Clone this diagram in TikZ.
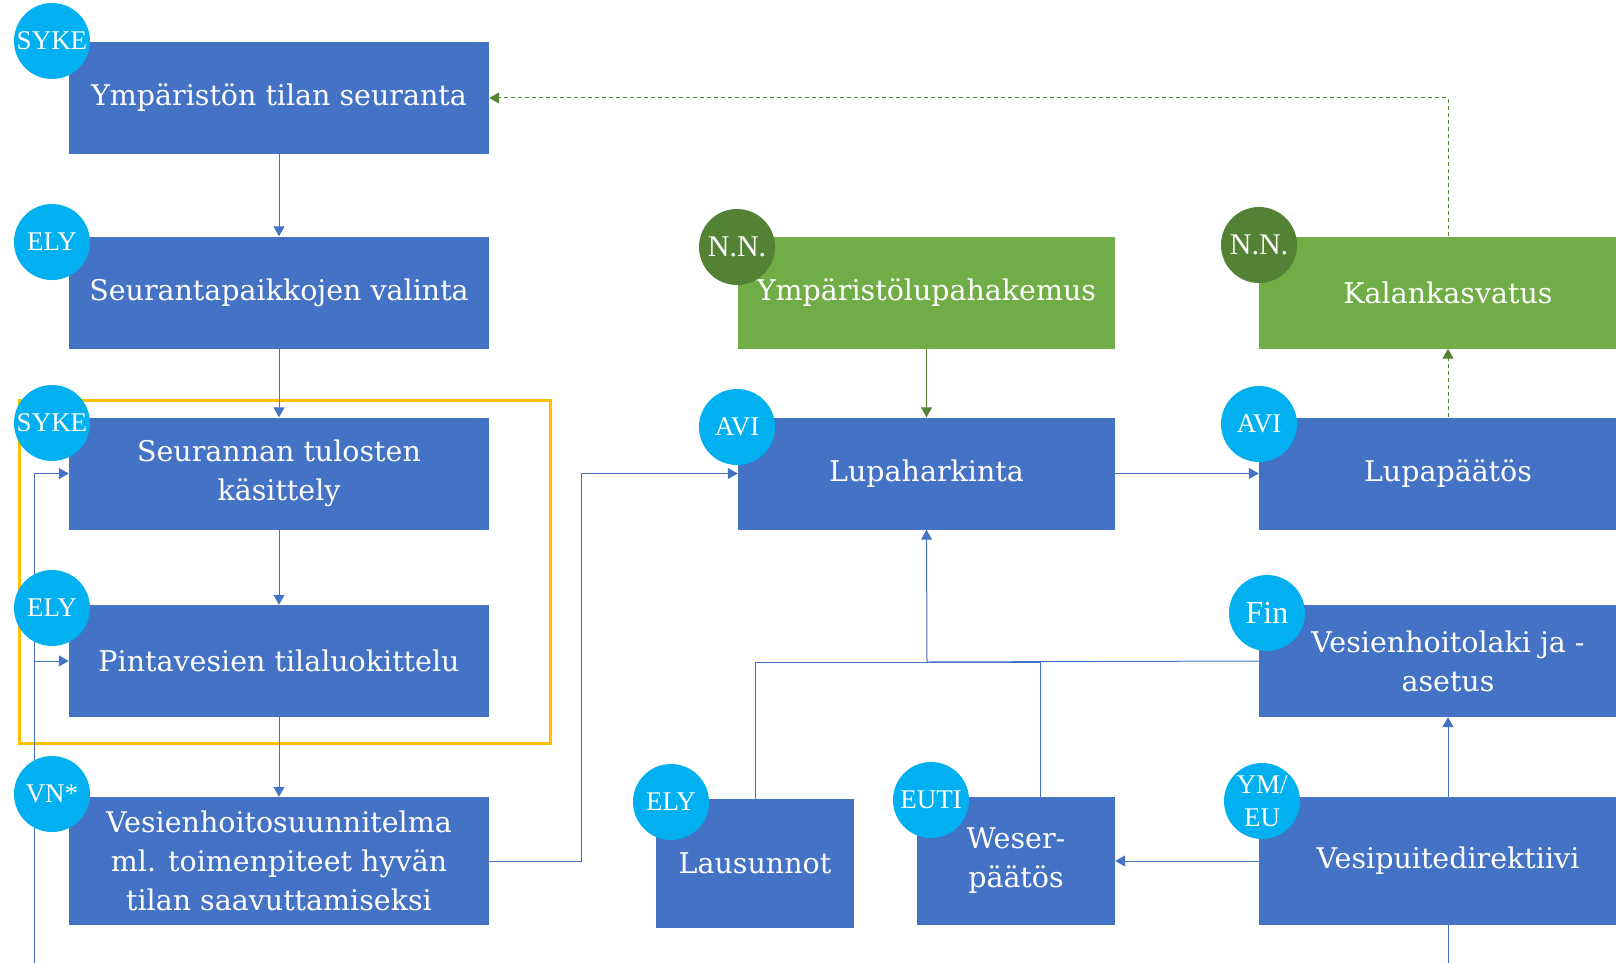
\documentclass[tikz,border=0pt]{standalone}
\usepackage{fontspec}
\setmainfont{DejaVu Serif}
\newfontfamily\tagfont{Liberation Serif}
\usetikzlibrary{arrows.meta}
\definecolor{laatikko}{HTML}{4472C4}
\definecolor{pallo}{HTML}{00B0F0}
\definecolor{vihrea}{HTML}{70AD47}
\definecolor{tummavihrea}{HTML}{548235}
\definecolor{kulta}{HTML}{FFC000}

\begin{document}
\begin{tikzpicture}[x=1pt,y=-1pt,
  vaihe/.style={fill=laatikko,text=white,minimum width=420pt,minimum height=112pt,
    inner sep=0pt,align=center,font=\fontsize{28.5}{39}\selectfont},
  lupa/.style={vaihe,fill=vihrea},
  taho/.style={circle,fill=pallo,text=white,minimum size=76pt,inner sep=0pt,
    align=center,font=\tagfont\fontsize{27}{33}\selectfont},
  tahotumma/.style={taho,fill=tummavihrea,font=\tagfont\fontsize{30}{33}\selectfont},
  viiva/.style={draw=laatikko,line width=1pt},
  nuoli/.style={viiva,-{Triangle[length=10pt,width=11pt]}},
  vnuoli/.style={draw=tummavihrea,line width=1pt,-{Triangle[length=10pt,width=11pt]}},
  katko/.style={vnuoli,dash pattern=on 4pt off 3pt}]
\useasboundingbox (0,0) rectangle (1616,963);
\clip (0,0) rectangle (1616,963);
%Keltainen kehys
\draw[kulta,line width=3pt] (19,400) rectangle (550,743);
%Vasen sarake
\node[vaihe] (seuranta) at (279,98) {Ympäristön tilan seuranta};
\node[vaihe] (valinta) at (279,292.5) {Seurantapaikkojen valinta};
\node[vaihe] (kasittely) at (279,473.5) {Seurannan tulosten\\käsittely};
\node[vaihe] (luokittelu) at (279,661) {Pintavesien tilaluokittelu};
\node[vaihe,minimum height=128pt] (suunnitelma) at (279,861)
  {Vesienhoitosuunnitelma\\ml. toimenpiteet hyvän\\tilan saavuttamiseksi};
%Keskimmäinen sarake
\node[lupa,minimum width=377pt] (hakemus) at (926.5,292.5) {Ympäristölupahakemus};
\node[vaihe,minimum width=377pt] (harkinta) at (926.5,473.5) {Lupaharkinta};
\node[vaihe,minimum width=198pt,minimum height=129pt] (lausunnot) at (755,863.5) {Lausunnot};
\node[vaihe,minimum width=198pt,minimum height=128pt] (weser) at (1016,861) {Weser-\\päätös};
%Oikea sarake
\node[lupa,minimum width=378pt] (kala) at (1448,292.5) {Kalankasvatus};
\node[vaihe,minimum width=378pt] (paatos) at (1448,473.5) {Lupapäätös};
\node[vaihe,minimum width=378pt] (vhlaki) at (1448,661) {Vesienhoitolaki ja -\\asetus};
\node[vaihe,minimum width=378pt,minimum height=128pt] (vpd) at (1448,861) {Vesipuitedirektiivi};
%Apupisteet
\coordinate (vasen) at (34,963);
\coordinate (liitos) at (927,662);
\coordinate (ala) at (1448,963);
%Nuolet
\draw[nuoli] (seuranta) -- (valinta);
\draw[nuoli] (valinta) -- (kasittely);
\draw[nuoli] (kasittely) -- (luokittelu);
\draw[nuoli] (luokittelu) -- (suunnitelma);
\draw[nuoli] (vasen) |- (kasittely.west);
\draw[nuoli] (vasen) |- (luokittelu.west);
\draw[nuoli] (suunnitelma.east) -- ++(92,0) |- (harkinta.west);
\draw[vnuoli] (hakemus) -- (harkinta);
\draw[nuoli] (harkinta) -- (paatos);
\draw[katko] (paatos) -- (kala);
\draw[katko] (kala.north) |- (seuranta.east);
\draw[viiva] (lausunnot.north) |- (liitos);
\draw[viiva] ([xshift=24pt]weser.north) |- (liitos);
\draw[viiva] (vhlaki.west) -- (liitos);
\draw[nuoli] (liitos) -- (harkinta.south);
\draw[nuoli] (vpd) -- (weser);
\draw[nuoli] (vpd) -- (vhlaki);
\draw[viiva] (vpd.south) -- (ala);
%Tahot
\node[taho] (syke1) at (52,41) {SYKE};
\node[taho] (ely1) at (52,242) {ELY};
\node[taho] (syke2) at (52,423) {SYKE};
\node[taho] (ely2) at (52,608) {ELY};
\node[taho] (vn) at (52,794) {VN*};
\node[tahotumma] (nn1) at (737,247) {N.N.};
\node[taho] (avi1) at (737,427) {AVI};
\node[taho] (ely3) at (671,802) {ELY};
\node[taho] (euti) at (931,800) {EUTI};
\node[tahotumma] (nn2) at (1259,245) {N.N.};
\node[taho] (avi2) at (1259,424) {AVI};
\node[taho,font=\tagfont\fontsize{32}{33}\selectfont] (fin) at (1267,613) {Fin};
\node[taho] (ymeu) at (1262,801) {YM/\\EU};
\end{tikzpicture}
\end{document}
